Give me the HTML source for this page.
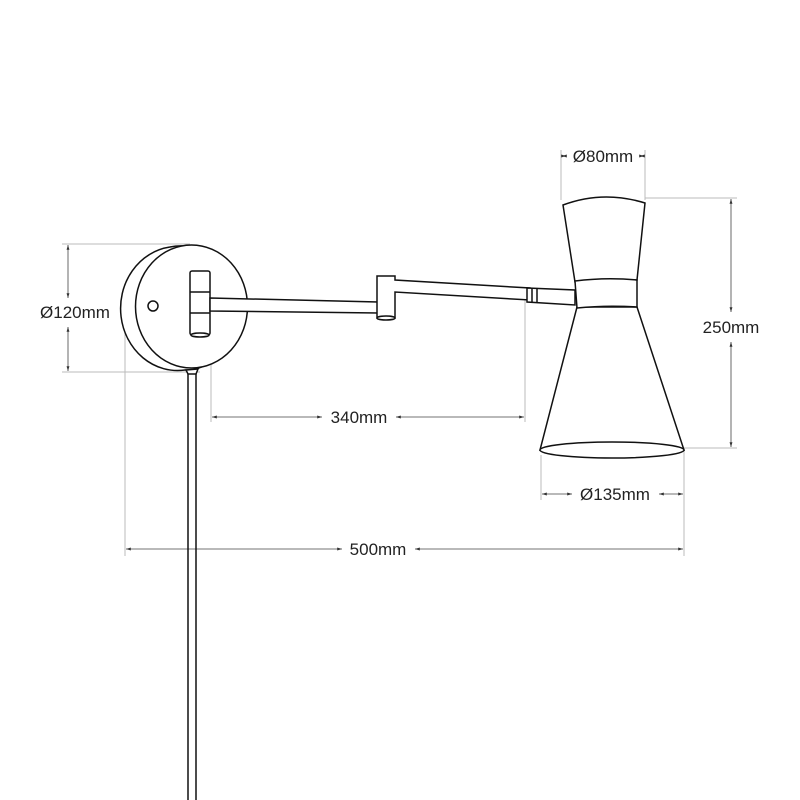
<!DOCTYPE html>
<html><head><style>body{margin:0;background:#fff}svg{display:block}</style></head><body>
<svg width="800" height="800" viewBox="0 0 800 800" xmlns="http://www.w3.org/2000/svg">
<defs>
<marker id="a" viewBox="0 0 10 10" refX="10" refY="5" markerWidth="6" markerHeight="6" orient="auto-start-reverse"><path d="M0,2L10,5L0,8z" fill="#333"/></marker>
</defs>
<g stroke="#bbb" stroke-width="1" fill="none">
<line x1="62" y1="244" x2="190" y2="244"/><line x1="62" y1="372" x2="200" y2="372"/>
<line x1="211" y1="290" x2="211" y2="422"/><line x1="525" y1="300" x2="525" y2="422"/>
<line x1="125" y1="290" x2="125" y2="556"/><line x1="684" y1="450" x2="684" y2="556"/>
<line x1="541" y1="455" x2="541" y2="500"/>
<line x1="561" y1="150" x2="561" y2="200"/><line x1="645" y1="150" x2="645" y2="200"/>
<line x1="645" y1="198" x2="737" y2="198"/><line x1="684" y1="448" x2="737" y2="448"/>
</g>
<g stroke="#444" stroke-width="0.8" fill="none" marker-start="url(#a)" marker-end="url(#a)">
<line x1="68" y1="245" x2="68" y2="298"/><line x1="68" y1="327" x2="68" y2="371"/>
<line x1="212" y1="417" x2="322" y2="417"/><line x1="396" y1="417" x2="524" y2="417"/>
<line x1="126" y1="549" x2="342" y2="549"/><line x1="415" y1="549" x2="683" y2="549"/>
<line x1="542" y1="494" x2="572" y2="494"/><line x1="659" y1="494" x2="683" y2="494"/>
<line x1="562" y1="156" x2="566" y2="156"/><line x1="640" y1="156" x2="644" y2="156"/>
<line x1="731" y1="199" x2="731" y2="312"/><line x1="731" y1="342" x2="731" y2="447"/>
</g>
<g font-family="Liberation Sans, sans-serif" font-size="17" fill="#222" text-anchor="middle">
<text x="75" y="318">Ø120mm</text>
<text x="359" y="423">340mm</text>
<text x="378" y="555">500mm</text>
<text x="615" y="500">Ø135mm</text>
<text x="603" y="162">Ø80mm</text>
<text x="731" y="333">250mm</text>
</g>
<g stroke="#111" stroke-width="1.5" fill="#fff">
<line x1="188" y1="372" x2="188" y2="800"/><line x1="196" y1="372" x2="196" y2="800"/>
<path d="M170,247 A56,61 0 0 0 185,370 L192,370 A56,61 0 0 0 170,247 Z"/>
<ellipse cx="191.5" cy="306.5" rx="56" ry="61.5"/>
<path d="M186,370 L198,369 L196,374 L188,374 Z"/>
<circle cx="153" cy="306" r="5"/>
<rect x="190" y="271" width="20" height="64" rx="2"/>
<line x1="190" y1="292" x2="210" y2="292"/><line x1="190" y1="313" x2="210" y2="313"/>
<ellipse cx="200" cy="335" rx="9" ry="2"/>
<path d="M210,298 L378,302 L378,313 L210,311 Z"/>
<path d="M377,276 L395,276 L395,280 L530,288 L530,300 L395,292 L395,318 L377,318 Z"/>
<ellipse cx="386" cy="318" rx="9" ry="2"/>
<path d="M527,288 L575,290 L575,305 L527,302 Z"/>
<line x1="532" y1="288" x2="532" y2="302"/><line x1="537" y1="288" x2="537" y2="303"/>
<path d="M563,205 Q603,190 645,203 L637,280 L575,282 Z"/>
<path d="M577,307 L637,307 L684,450 Q612,442 540,450 Z"/>
<ellipse cx="612" cy="450" rx="72" ry="8"/>
<path d="M575,281 Q606,277 637,280 L637,307 Q606,305 577,308 Z"/>
</g>
</svg>
</body></html>
